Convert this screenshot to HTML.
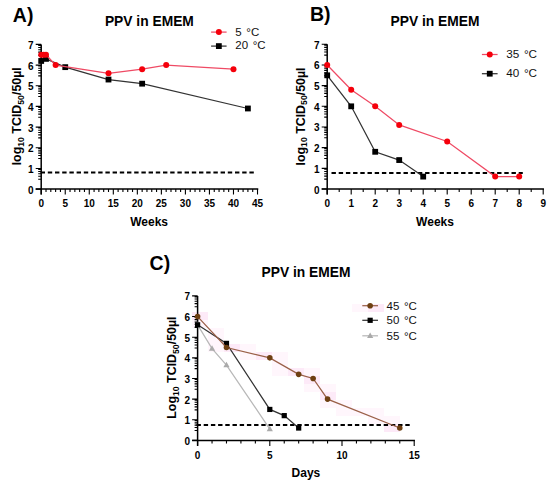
<!DOCTYPE html>
<html><head><meta charset="utf-8"><style>
html,body{margin:0;padding:0;background:#fff;width:550px;height:483px;overflow:hidden}
svg{display:block}
text{font-family:"Liberation Sans", sans-serif;fill:#000}
.tk{font-size:10.0px;font-weight:bold}
.pl{font-size:19.5px;font-weight:bold}
.tt{font-size:13.8px;font-weight:bold}
.xl{font-size:12px;font-weight:bold}
.yl{font-size:12.4px;font-weight:bold}
.lg{fill:#111}
</style></head><body>
<svg width="550" height="483" viewBox="0 0 550 483">
<rect width="550" height="483" fill="#fff"/>
<text x="12.8" y="22" class="pl">A)</text>
<text x="149.4" y="25.6" text-anchor="middle" class="tt">PPV in EMEM</text>
<line x1="41.20" y1="44.41" x2="41.20" y2="194.60" stroke="#000" stroke-width="1.5"/>
<line x1="35.70" y1="189.10" x2="258.27" y2="189.10" stroke="#000" stroke-width="1.5"/>
<path d="M35.70 189.10H41.20 M38.20 179.24H41.20 M38.20 176.18H41.20 M38.20 173.80H41.20 M38.20 171.53H41.20 M38.20 169.40H41.20 M35.70 168.43H41.20 M38.20 158.57H41.20 M38.20 155.51H41.20 M38.20 153.13H41.20 M38.20 150.86H41.20 M38.20 148.73H41.20 M35.70 147.76H41.20 M38.20 137.90H41.20 M38.20 134.84H41.20 M38.20 132.46H41.20 M38.20 130.19H41.20 M38.20 128.06H41.20 M35.70 127.09H41.20 M38.20 117.23H41.20 M38.20 114.17H41.20 M38.20 111.79H41.20 M38.20 109.52H41.20 M38.20 107.39H41.20 M35.70 106.42H41.20 M38.20 96.56H41.20 M38.20 93.50H41.20 M38.20 91.12H41.20 M38.20 88.85H41.20 M38.20 86.72H41.20 M35.70 85.75H41.20 M38.20 75.89H41.20 M38.20 72.83H41.20 M38.20 70.45H41.20 M38.20 68.18H41.20 M38.20 66.05H41.20 M35.70 65.08H41.20 M38.20 55.22H41.20 M38.20 52.16H41.20 M38.20 49.78H41.20 M38.20 47.51H41.20 M38.20 45.38H41.20 M35.70 44.41H41.20 M41.20 189.10V194.60 M46.01 189.10V192.10 M50.81 189.10V192.10 M55.62 189.10V192.10 M60.43 189.10V192.10 M65.24 189.10V194.60 M70.04 189.10V192.10 M74.85 189.10V192.10 M79.66 189.10V192.10 M84.46 189.10V192.10 M89.27 189.10V194.60 M94.08 189.10V192.10 M98.88 189.10V192.10 M103.69 189.10V192.10 M108.50 189.10V192.10 M113.31 189.10V194.60 M118.11 189.10V192.10 M122.92 189.10V192.10 M127.73 189.10V192.10 M132.53 189.10V192.10 M137.34 189.10V194.60 M142.15 189.10V192.10 M146.95 189.10V192.10 M151.76 189.10V192.10 M156.57 189.10V192.10 M161.38 189.10V194.60 M166.18 189.10V192.10 M170.99 189.10V192.10 M175.80 189.10V192.10 M180.60 189.10V192.10 M185.41 189.10V194.60 M190.22 189.10V192.10 M195.02 189.10V192.10 M199.83 189.10V192.10 M204.64 189.10V192.10 M209.44 189.10V194.60 M214.25 189.10V192.10 M219.06 189.10V192.10 M223.87 189.10V192.10 M228.67 189.10V192.10 M233.48 189.10V194.60 M238.29 189.10V192.10 M243.09 189.10V192.10 M247.90 189.10V192.10 M252.71 189.10V192.10 M257.52 189.10V194.60" stroke="#000" stroke-width="1.1" fill="none"/>
<text x="33.60" y="193.60" text-anchor="end" class="tk">0</text>
<text x="33.60" y="172.93" text-anchor="end" class="tk">1</text>
<text x="33.60" y="152.26" text-anchor="end" class="tk">2</text>
<text x="33.60" y="131.59" text-anchor="end" class="tk">3</text>
<text x="33.60" y="110.92" text-anchor="end" class="tk">4</text>
<text x="33.60" y="90.25" text-anchor="end" class="tk">5</text>
<text x="33.60" y="69.58" text-anchor="end" class="tk">6</text>
<text x="33.60" y="48.91" text-anchor="end" class="tk">7</text>
<text x="41.20" y="207.10" text-anchor="middle" class="tk">0</text>
<text x="65.24" y="207.10" text-anchor="middle" class="tk">5</text>
<text x="89.27" y="207.10" text-anchor="middle" class="tk">10</text>
<text x="113.31" y="207.10" text-anchor="middle" class="tk">15</text>
<text x="137.34" y="207.10" text-anchor="middle" class="tk">20</text>
<text x="161.38" y="207.10" text-anchor="middle" class="tk">25</text>
<text x="185.41" y="207.10" text-anchor="middle" class="tk">30</text>
<text x="209.44" y="207.10" text-anchor="middle" class="tk">35</text>
<text x="233.48" y="207.10" text-anchor="middle" class="tk">40</text>
<text x="257.52" y="207.10" text-anchor="middle" class="tk">45</text>
<line x1="40.6" y1="172.4" x2="254" y2="172.4" stroke="#000" stroke-width="2" stroke-dasharray="4.4 2.8"/>
<text transform="translate(21.3,116.3) rotate(-90)" text-anchor="middle" class="yl">log<tspan font-size="8.7" dy="2.6">10</tspan><tspan dy="-2.6"> TCID</tspan><tspan font-size="8.7" dy="2.6">50</tspan><tspan dy="-2.6">/50µl</tspan></text>
<text x="149.15" y="225.6" text-anchor="middle" class="xl">Weeks</text>
<path d="M41.20 60.95 L46.01 58.88 L65.24 67.15 L108.50 79.55 L142.15 83.68 L247.90 108.49" stroke="#333" stroke-width="1.25" fill="none"/>
<rect x="38.30" y="58.05" width="5.80" height="5.80" fill="#000"/>
<rect x="43.11" y="55.98" width="5.80" height="5.80" fill="#000"/>
<rect x="62.34" y="64.25" width="5.80" height="5.80" fill="#000"/>
<rect x="105.60" y="76.65" width="5.80" height="5.80" fill="#000"/>
<rect x="139.25" y="80.78" width="5.80" height="5.80" fill="#000"/>
<rect x="245.00" y="105.59" width="5.80" height="5.80" fill="#000"/>
<path d="M41.20 54.74 L43.60 54.74 L46.01 54.74 L55.62 65.08 L108.50 73.35 L142.15 69.21 L166.18 65.08 L233.48 69.21" stroke="#ef4a64" stroke-width="1.25" fill="none"/>
<circle cx="41.20" cy="54.74" r="3.00" fill="#f5000b"/>
<circle cx="43.60" cy="54.74" r="3.00" fill="#f5000b"/>
<circle cx="46.01" cy="54.74" r="3.00" fill="#f5000b"/>
<circle cx="55.62" cy="65.08" r="3.00" fill="#f5000b"/>
<circle cx="108.50" cy="73.35" r="3.00" fill="#f5000b"/>
<circle cx="142.15" cy="69.21" r="3.00" fill="#f5000b"/>
<circle cx="166.18" cy="65.08" r="3.00" fill="#f5000b"/>
<circle cx="233.48" cy="69.21" r="3.00" fill="#f5000b"/>
<line x1="211.1" y1="32.1" x2="226.6" y2="32.1" stroke="#ef4a64" stroke-width="1.25"/>
<circle cx="218.85" cy="32.10" r="3.00" fill="#f5000b"/>
<text x="235.3" y="35.8" class="lg" font-size="11.5">5<tspan dx="4.60">°C</tspan></text>
<line x1="211.1" y1="46.1" x2="226.6" y2="46.1" stroke="#333" stroke-width="1.25"/>
<rect x="215.95" y="43.20" width="5.80" height="5.80" fill="#000"/>
<text x="235.3" y="48.8" class="lg" font-size="11.5">20<tspan dx="4.60">°C</tspan></text>
<text x="310" y="21.4" class="pl">B)</text>
<text x="435" y="25.8" text-anchor="middle" class="tt">PPV in EMEM</text>
<line x1="327.20" y1="44.31" x2="327.20" y2="194.50" stroke="#000" stroke-width="1.5"/>
<line x1="321.70" y1="189.00" x2="543.95" y2="189.00" stroke="#000" stroke-width="1.5"/>
<path d="M321.70 189.00H327.20 M324.20 179.14H327.20 M324.20 176.08H327.20 M324.20 173.70H327.20 M324.20 171.43H327.20 M324.20 169.30H327.20 M321.70 168.33H327.20 M324.20 158.47H327.20 M324.20 155.41H327.20 M324.20 153.03H327.20 M324.20 150.76H327.20 M324.20 148.63H327.20 M321.70 147.66H327.20 M324.20 137.80H327.20 M324.20 134.74H327.20 M324.20 132.36H327.20 M324.20 130.09H327.20 M324.20 127.96H327.20 M321.70 126.99H327.20 M324.20 117.13H327.20 M324.20 114.07H327.20 M324.20 111.69H327.20 M324.20 109.42H327.20 M324.20 107.29H327.20 M321.70 106.32H327.20 M324.20 96.46H327.20 M324.20 93.40H327.20 M324.20 91.02H327.20 M324.20 88.75H327.20 M324.20 86.62H327.20 M321.70 85.65H327.20 M324.20 75.79H327.20 M324.20 72.73H327.20 M324.20 70.35H327.20 M324.20 68.08H327.20 M324.20 65.95H327.20 M321.70 64.98H327.20 M324.20 55.12H327.20 M324.20 52.06H327.20 M324.20 49.68H327.20 M324.20 47.41H327.20 M324.20 45.28H327.20 M321.70 44.31H327.20 M327.20 189.00V194.50 M339.20 189.00V192.00 M351.20 189.00V194.50 M363.20 189.00V192.00 M375.20 189.00V194.50 M387.20 189.00V192.00 M399.20 189.00V194.50 M411.20 189.00V192.00 M423.20 189.00V194.50 M435.20 189.00V192.00 M447.20 189.00V194.50 M459.20 189.00V192.00 M471.20 189.00V194.50 M483.20 189.00V192.00 M495.20 189.00V194.50 M507.20 189.00V192.00 M519.20 189.00V194.50 M531.20 189.00V192.00 M543.20 189.00V194.50" stroke="#000" stroke-width="1.1" fill="none"/>
<text x="319.60" y="193.50" text-anchor="end" class="tk">0</text>
<text x="319.60" y="172.83" text-anchor="end" class="tk">1</text>
<text x="319.60" y="152.16" text-anchor="end" class="tk">2</text>
<text x="319.60" y="131.49" text-anchor="end" class="tk">3</text>
<text x="319.60" y="110.82" text-anchor="end" class="tk">4</text>
<text x="319.60" y="90.15" text-anchor="end" class="tk">5</text>
<text x="319.60" y="69.48" text-anchor="end" class="tk">6</text>
<text x="319.60" y="48.81" text-anchor="end" class="tk">7</text>
<text x="327.20" y="207.00" text-anchor="middle" class="tk">0</text>
<text x="351.20" y="207.00" text-anchor="middle" class="tk">1</text>
<text x="375.20" y="207.00" text-anchor="middle" class="tk">2</text>
<text x="399.20" y="207.00" text-anchor="middle" class="tk">3</text>
<text x="423.20" y="207.00" text-anchor="middle" class="tk">4</text>
<text x="447.20" y="207.00" text-anchor="middle" class="tk">5</text>
<text x="471.20" y="207.00" text-anchor="middle" class="tk">6</text>
<text x="495.20" y="207.00" text-anchor="middle" class="tk">7</text>
<text x="519.20" y="207.00" text-anchor="middle" class="tk">8</text>
<text x="543.20" y="207.00" text-anchor="middle" class="tk">9</text>
<line x1="331.5" y1="173.0" x2="522.8" y2="173.0" stroke="#000" stroke-width="2" stroke-dasharray="4.4 2.8"/>
<text transform="translate(304.6,116.5) rotate(-90)" text-anchor="middle" class="yl">log<tspan font-size="8.7" dy="2.6">10</tspan><tspan dy="-2.6"> TCID</tspan><tspan font-size="8.7" dy="2.6">50</tspan><tspan dy="-2.6">/50µl</tspan></text>
<text x="435" y="225.6" text-anchor="middle" class="xl">Weeks</text>
<path d="M327.20 75.31 L351.20 106.32 L375.20 151.79 L399.20 160.06 L423.20 176.60" stroke="#333" stroke-width="1.25" fill="none"/>
<rect x="324.30" y="72.41" width="5.80" height="5.80" fill="#000"/>
<rect x="348.30" y="103.42" width="5.80" height="5.80" fill="#000"/>
<rect x="372.30" y="148.89" width="5.80" height="5.80" fill="#000"/>
<rect x="396.30" y="157.16" width="5.80" height="5.80" fill="#000"/>
<rect x="420.30" y="173.70" width="5.80" height="5.80" fill="#000"/>
<path d="M327.20 64.98 L351.20 89.78 L375.20 106.32 L399.20 124.92 L447.20 141.46 L495.20 176.60 L519.20 176.60" stroke="#ef4a64" stroke-width="1.25" fill="none"/>
<circle cx="327.20" cy="64.98" r="3.00" fill="#f5000b"/>
<circle cx="351.20" cy="89.78" r="3.00" fill="#f5000b"/>
<circle cx="375.20" cy="106.32" r="3.00" fill="#f5000b"/>
<circle cx="399.20" cy="124.92" r="3.00" fill="#f5000b"/>
<circle cx="447.20" cy="141.46" r="3.00" fill="#f5000b"/>
<circle cx="495.20" cy="176.60" r="3.00" fill="#f5000b"/>
<circle cx="519.20" cy="176.60" r="3.00" fill="#f5000b"/>
<line x1="481.9" y1="54.5" x2="497.6" y2="54.5" stroke="#ef4a64" stroke-width="1.25"/>
<circle cx="489.75" cy="54.50" r="3.00" fill="#f5000b"/>
<text x="506.2" y="57.7" class="lg" font-size="11.7">35<tspan dx="4.68">°C</tspan></text>
<line x1="481.9" y1="73.7" x2="497.6" y2="73.7" stroke="#333" stroke-width="1.25"/>
<rect x="486.85" y="70.80" width="5.80" height="5.80" fill="#000"/>
<text x="506.2" y="76.9" class="lg" font-size="11.7">40<tspan dx="4.68">°C</tspan></text>
<rect x="192" y="320" width="16" height="8" fill="#fff6fc"/>
<rect x="208" y="328" width="16" height="8" fill="#fff6fc"/>
<rect x="208" y="336" width="16" height="8" fill="#fff6fc"/>
<rect x="208" y="344" width="16" height="8" fill="#fff6fc"/>
<rect x="240" y="344" width="16" height="8" fill="#fff6fc"/>
<rect x="240" y="352" width="16" height="8" fill="#fff6fc"/>
<rect x="272" y="352" width="16" height="8" fill="#fff6fc"/>
<rect x="272" y="360" width="16" height="8" fill="#fff6fc"/>
<rect x="272" y="368" width="16" height="8" fill="#fff6fc"/>
<rect x="304" y="368" width="16" height="8" fill="#fff6fc"/>
<rect x="304" y="384" width="16" height="8" fill="#fff6fc"/>
<rect x="320" y="384" width="16" height="8" fill="#fff6fc"/>
<rect x="320" y="400" width="16" height="8" fill="#fff6fc"/>
<rect x="336" y="400" width="16" height="8" fill="#fff6fc"/>
<rect x="336" y="408" width="16" height="8" fill="#fff6fc"/>
<rect x="352" y="304" width="16" height="8" fill="#fff6fc"/>
<rect x="352" y="408" width="16" height="8" fill="#fff6fc"/>
<rect x="368" y="408" width="16" height="8" fill="#fff6fc"/>
<rect x="368" y="416" width="16" height="8" fill="#fff6fc"/>
<rect x="384" y="416" width="16" height="8" fill="#fff6fc"/>
<rect x="192" y="312" width="16" height="8" fill="#fdeaf8"/>
<rect x="224" y="344" width="16" height="8" fill="#fdeaf8"/>
<rect x="256" y="352" width="16" height="8" fill="#fdeaf8"/>
<rect x="288" y="368" width="16" height="8" fill="#fdeaf8"/>
<rect x="304" y="376" width="16" height="8" fill="#fdeaf8"/>
<rect x="320" y="392" width="16" height="8" fill="#fdeaf8"/>
<rect x="368" y="304" width="16" height="8" fill="#fdeaf8"/>
<rect x="384" y="424" width="16" height="8" fill="#fdeaf8"/>
<text x="149.6" y="270.4" class="pl">C)</text>
<text x="306" y="277" text-anchor="middle" class="tt">PPV in EMEM</text>
<line x1="197.60" y1="295.92" x2="197.60" y2="445.90" stroke="#000" stroke-width="1.5"/>
<line x1="192.10" y1="440.40" x2="414.95" y2="440.40" stroke="#000" stroke-width="1.5"/>
<path d="M192.10 440.40H197.60 M194.60 430.55H197.60 M194.60 427.50H197.60 M194.60 425.13H197.60 M194.60 422.86H197.60 M194.60 420.73H197.60 M192.10 419.76H197.60 M194.60 409.91H197.60 M194.60 406.86H197.60 M194.60 404.49H197.60 M194.60 402.22H197.60 M194.60 400.09H197.60 M192.10 399.12H197.60 M194.60 389.27H197.60 M194.60 386.22H197.60 M194.60 383.85H197.60 M194.60 381.58H197.60 M194.60 379.45H197.60 M192.10 378.48H197.60 M194.60 368.63H197.60 M194.60 365.58H197.60 M194.60 363.21H197.60 M194.60 360.94H197.60 M194.60 358.81H197.60 M192.10 357.84H197.60 M194.60 347.99H197.60 M194.60 344.94H197.60 M194.60 342.57H197.60 M194.60 340.30H197.60 M194.60 338.17H197.60 M192.10 337.20H197.60 M194.60 327.35H197.60 M194.60 324.30H197.60 M194.60 321.93H197.60 M194.60 319.66H197.60 M194.60 317.53H197.60 M192.10 316.56H197.60 M194.60 306.71H197.60 M194.60 303.66H197.60 M194.60 301.29H197.60 M194.60 299.02H197.60 M194.60 296.89H197.60 M192.10 295.92H197.60 M197.60 440.40V445.90 M212.04 440.40V443.40 M226.48 440.40V443.40 M240.92 440.40V443.40 M255.36 440.40V443.40 M269.80 440.40V445.90 M284.24 440.40V443.40 M298.68 440.40V443.40 M313.12 440.40V443.40 M327.56 440.40V443.40 M342.00 440.40V445.90 M356.44 440.40V443.40 M370.88 440.40V443.40 M385.32 440.40V443.40 M399.76 440.40V443.40 M414.20 440.40V445.90" stroke="#000" stroke-width="1.1" fill="none"/>
<text x="190.00" y="444.80" text-anchor="end" class="tk">0</text>
<text x="190.00" y="424.16" text-anchor="end" class="tk">1</text>
<text x="190.00" y="403.52" text-anchor="end" class="tk">2</text>
<text x="190.00" y="382.88" text-anchor="end" class="tk">3</text>
<text x="190.00" y="362.24" text-anchor="end" class="tk">4</text>
<text x="190.00" y="341.60" text-anchor="end" class="tk">5</text>
<text x="190.00" y="320.96" text-anchor="end" class="tk">6</text>
<text x="190.00" y="300.32" text-anchor="end" class="tk">7</text>
<text x="197.60" y="459.20" text-anchor="middle" class="tk">0</text>
<text x="269.80" y="459.20" text-anchor="middle" class="tk">5</text>
<text x="342.00" y="459.20" text-anchor="middle" class="tk">10</text>
<text x="414.20" y="459.20" text-anchor="middle" class="tk">15</text>
<line x1="196.5" y1="424.9" x2="410" y2="424.9" stroke="#000" stroke-width="2" stroke-dasharray="4.4 2.8"/>
<text transform="translate(175.9,367.6) rotate(-90)" text-anchor="middle" class="yl">Log<tspan font-size="8.7" dy="2.6">10</tspan><tspan dy="-2.6"> TCID</tspan><tspan font-size="8.7" dy="2.6">50</tspan><tspan dy="-2.6">/50µl</tspan></text>
<text x="305.9" y="477" text-anchor="middle" class="xl">Days</text>
<path d="M197.60 324.82 L212.04 348.55 L226.48 365.06 L269.80 429.05" stroke="#b8b8b8" stroke-width="1.25" fill="none"/>
<path d="M197.60 321.47L200.70 327.05L194.50 327.05Z" fill="#aaaaaa"/>
<path d="M212.04 345.20L215.14 350.78L208.94 350.78Z" fill="#aaaaaa"/>
<path d="M226.48 361.72L229.58 367.30L223.38 367.30Z" fill="#aaaaaa"/>
<path d="M269.80 425.70L272.90 431.28L266.70 431.28Z" fill="#aaaaaa"/>
<path d="M197.60 324.82 L226.48 343.39 L269.80 409.44 L284.24 415.63 L298.68 428.02" stroke="#333" stroke-width="1.25" fill="none"/>
<rect x="195.00" y="322.22" width="5.20" height="5.20" fill="#000"/>
<rect x="223.88" y="340.79" width="5.20" height="5.20" fill="#000"/>
<rect x="267.20" y="406.84" width="5.20" height="5.20" fill="#000"/>
<rect x="281.64" y="413.03" width="5.20" height="5.20" fill="#000"/>
<rect x="296.08" y="425.42" width="5.20" height="5.20" fill="#000"/>
<path d="M197.60 316.56 L226.48 347.52 L269.80 357.84 L298.68 374.35 L313.12 378.48 L327.56 399.12 L399.76 428.02" stroke="#9a6048" stroke-width="1.25" fill="none"/>
<circle cx="197.60" cy="316.56" r="2.80" fill="#6e4012"/>
<circle cx="226.48" cy="347.52" r="2.80" fill="#6e4012"/>
<circle cx="269.80" cy="357.84" r="2.80" fill="#6e4012"/>
<circle cx="298.68" cy="374.35" r="2.80" fill="#6e4012"/>
<circle cx="313.12" cy="378.48" r="2.80" fill="#6e4012"/>
<circle cx="327.56" cy="399.12" r="2.80" fill="#6e4012"/>
<circle cx="399.76" cy="428.02" r="2.80" fill="#6e4012"/>
<line x1="362.3" y1="305.7" x2="378" y2="305.7" stroke="#9a6048" stroke-width="1.25"/>
<circle cx="370.15" cy="305.70" r="2.80" fill="#6e4012"/>
<text x="386.5" y="309.6" class="lg" font-size="11.5">45<tspan dx="4.60">°C</tspan></text>
<line x1="362.3" y1="320.3" x2="378" y2="320.3" stroke="#333" stroke-width="1.25"/>
<rect x="367.55" y="317.70" width="5.20" height="5.20" fill="#000"/>
<text x="386.5" y="324.2" class="lg" font-size="11.5">50<tspan dx="4.60">°C</tspan></text>
<line x1="362.3" y1="335.8" x2="378" y2="335.8" stroke="#b8b8b8" stroke-width="1.25"/>
<path d="M370.15 332.45L373.25 338.03L367.05 338.03Z" fill="#aaaaaa"/>
<text x="386.5" y="339.5" class="lg" font-size="11.5">55<tspan dx="4.60">°C</tspan></text>
</svg>
</body></html>
